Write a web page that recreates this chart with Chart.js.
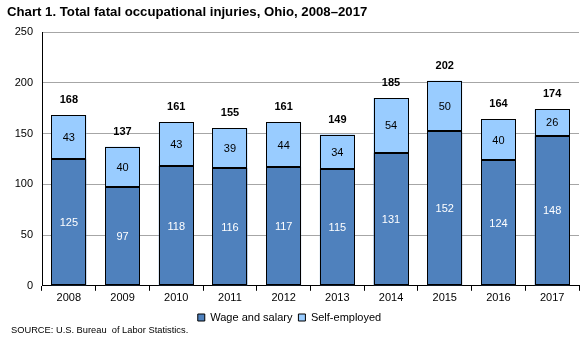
<!DOCTYPE html>
<html>
<head>
<meta charset="utf-8">
<script src="https://cdn.jsdelivr.net/npm/chart.js@4"></script>
<style>
  html, body { margin: 0; padding: 0; background: #fff; }
  #wrap { width: 587px; height: 341px; position: relative; }
</style>
</head>
<body>
<div id="wrap"><canvas id="chart" width="587" height="341"></canvas></div>
<script>
const years = ["2008", "2009", "2010", "2011", "2012", "2013", "2014", "2015", "2016", "2017"];
const wageSalary = [125, 97, 118, 116, 117, 115, 131, 152, 124, 148];
const selfEmployed = [43, 40, 43, 39, 44, 34, 54, 50, 40, 26];
const totals = [168, 137, 161, 155, 161, 149, 185, 202, 164, 174];
const yTicks = [0, 50, 100, 150, 200, 250];

const FONT = "'Liberation Sans', Arial, sans-serif";
Chart.defaults.font.family = FONT;
Chart.defaults.color = "#000";

// crisp outlines, segment values, totals, title and source note
const labelsPlugin = {
  id: "barLabels",
  afterDatasetsDraw(chart) {
    const ctx = chart.ctx;
    ctx.save();
    ctx.strokeStyle = "#000";
    ctx.lineWidth = 1;
    chart.data.datasets.forEach((ds, di) => {
      chart.getDatasetMeta(di).data.forEach((bar) => {
        const l = Math.round(bar.x - bar.width / 2) + 0.5;
        const r = Math.round(bar.x + bar.width / 2) - 0.5;
        const t = Math.round(bar.y) + 0.5;
        const b = Math.round(bar.base) - 0.5;
        ctx.strokeRect(l, t, r - l, b - t);
      });
    });

    ctx.textAlign = "center";
    ctx.textBaseline = "middle";
    ctx.font = "11px " + FONT;
    chart.data.datasets.forEach((ds, di) => {
      chart.getDatasetMeta(di).data.forEach((bar, i) => {
        const mid = (bar.y + bar.base) / 2;
        ctx.fillStyle = di === 0 ? "#fff" : "#000";
        ctx.fillText(ds.data[i], bar.x, mid + 1);
      });
    });
    ctx.font = "bold 11px " + FONT;
    ctx.fillStyle = "#000";
    chart.getDatasetMeta(1).data.forEach((bar, i) => {
      ctx.fillText(totals[i], bar.x, bar.y - 15);
    });

    ctx.textAlign = "left";
    ctx.font = "bold 13.2px " + FONT;
    ctx.fillText("Chart 1. Total fatal occupational injuries, Ohio, 2008\u20132017", 7, 12);
    ctx.font = "9.3px " + FONT;
    ctx.fillText("SOURCE: U.S. Bureau  of Labor Statistics.", 11, 330);
    ctx.restore();
  }
};

new Chart(document.getElementById("chart").getContext("2d"), {
  type: "bar",
  data: {
    labels: years,
    datasets: [
      {
        label: "Wage and salary",
        data: wageSalary,
        backgroundColor: "#4F81BD",
        borderWidth: 0,
      },
      {
        label: "Self-employed",
        data: selfEmployed,
        backgroundColor: "#99CCFF",
        borderWidth: 0,
      },
    ],
  },
  options: {
    responsive: false,
    animation: false,
    layout: { padding: { top: 32, right: 8, left: 0, bottom: 8 } },
    datasets: { bar: { categoryPercentage: 1, barPercentage: 0.65 } },
    plugins: {
      legend: {
        position: "bottom",
        labels: {
          font: { size: 11 },
          boxWidth: 7,
          boxHeight: 7,
          padding: 6,
          generateLabels(chart) {
            return chart.data.datasets.map((ds, i) => ({
              text: ds.label,
              fillStyle: ds.backgroundColor,
              strokeStyle: "#000",
              lineWidth: 1,
              datasetIndex: i,
            }));
          },
        },
      },
      tooltip: { enabled: false },
    },
    scales: {
      x: {
        stacked: true,
        border: { color: "#000", width: 1 },
        grid: {
          offset: true,
          drawOnChartArea: true,
          color: (c) => (c.index === years.length ? "#A6A6A6" : "rgba(0,0,0,0)"),
          tickColor: "#000",
          tickLength: 5,
        },
        ticks: { font: { size: 11 }, padding: 1 },
      },
      y: {
        stacked: true,
        min: 0,
        max: 250,
        afterBuildTicks(scale) {
          scale.ticks = yTicks.map((v) => ({ value: v }));
        },
        afterFit(scale) {
          scale.width = 42;
        },
        border: { color: "#000", width: 1 },
        grid: { color: "#A6A6A6", drawTicks: false },
        ticks: { font: { size: 11 }, padding: 9 },
      },
    },
  },
  plugins: [labelsPlugin],
});
</script>
</body>
</html>
